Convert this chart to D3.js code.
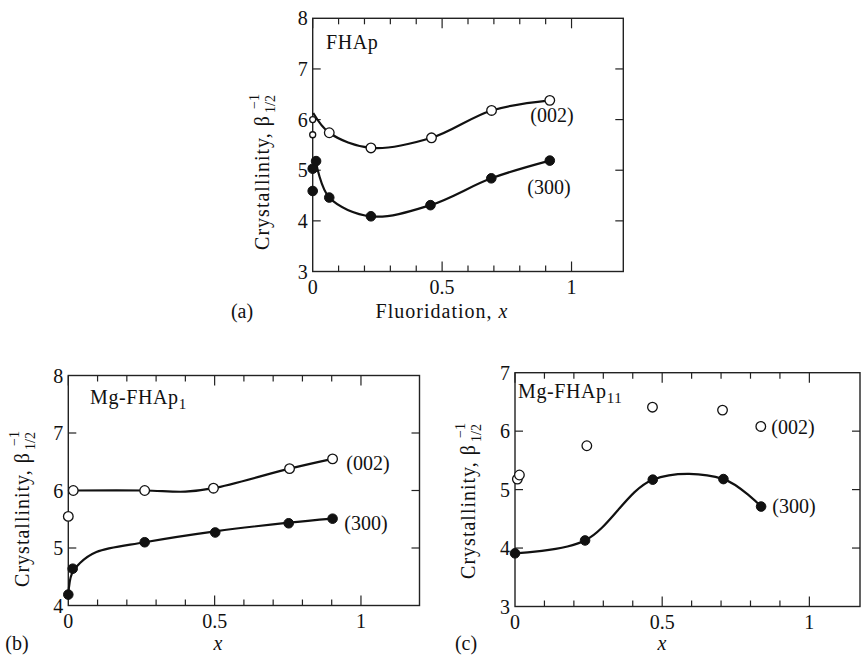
<!DOCTYPE html>
<html><head><meta charset="utf-8">
<script src="https://cdn.jsdelivr.net/npm/d3@7"></script>
<style>
body{margin:0;background:#fff}
svg{display:block}
text{font-family:"Liberation Serif","Times New Roman",serif;fill:#111}
</style>
</head><body>
<svg id="chart" width="861" height="655"></svg>
<script>
// ---------------- data ----------------
const xMajorTicks = [0, 0.5, 1];
const xMajorLabels = ["0", "0.5", "1"];
const xMinorTicks = [0.1, 0.2, 0.3, 0.4, 0.6, 0.7, 0.8, 0.9];
const yTicksA = [3, 4, 5, 6, 7, 8];
const yTicksB = [4, 5, 6, 7, 8];
const yTicksC = [3, 4, 5, 6, 7];

// (a) FHAp
const a002Small = [[0, 6.0], [0, 5.70]];
const a002Open = [[0.064, 5.74], [0.225, 5.44], [0.459, 5.64], [0.691, 6.18], [0.916, 6.38]];
const a002Fit = [[0.002, 6.13], [0.064, 5.74], [0.225, 5.44], [0.459, 5.64], [0.691, 6.18], [0.916, 6.38]];
const a300Filled = [[0, 5.03], [0.013, 5.18], [0, 4.59], [0.064, 4.46], [0.225, 4.09], [0.455, 4.31], [0.69, 4.84], [0.916, 5.19]];
const a300Fit = [[0.013, 5.15], [0.064, 4.46], [0.225, 4.09], [0.455, 4.31], [0.69, 4.84], [0.916, 5.19]];

// (b) Mg-FHAp1
const b002Open = [[0, 5.55], [0.017, 6.0], [0.261, 6.0], [0.496, 6.04], [0.756, 6.38], [0.903, 6.55]];
const b002Fit = [[0.017, 6.0], [0.261, 6.0], [0.40, 5.98], [0.496, 6.04], [0.756, 6.38], [0.903, 6.55]];
const b300Filled = [[0, 4.19], [0.015, 4.64], [0.261, 5.10], [0.502, 5.27], [0.753, 5.43], [0.903, 5.51]];
const b300Fit = [[0, 4.19], [0.012, 4.55], [0.04, 4.74], [0.096, 4.93], [0.261, 5.10], [0.502, 5.29], [0.753, 5.44], [0.903, 5.51]];

// (c) Mg-FHAp11
const c002Open = [[0.008, 5.18], [0.015, 5.25], [0.244, 5.75], [0.467, 6.41], [0.705, 6.36], [0.835, 6.08]];
const c300Filled = [[0, 3.91], [0.238, 4.13], [0.468, 5.17], [0.708, 5.18], [0.836, 4.71]];
const c300Fit = [[0, 3.91], [0.238, 4.13], [0.468, 5.17], [0.708, 5.18], [0.836, 4.71]];

// ---------------- drawing ----------------
const svg = d3.select("#chart");
const INK = "#111";

function panel(cfg) {
  const x = d3.scaleLinear().domain(cfg.xDomain).range([cfg.left, cfg.right]);
  const y = d3.scaleLinear().domain(cfg.yDomain).range([cfg.bottom, cfg.top]);
  const g = svg.append("g");

  // frame
  g.append("rect").attr("x", cfg.left).attr("y", cfg.top)
    .attr("width", cfg.right - cfg.left).attr("height", cfg.bottom - cfg.top)
    .attr("fill", "none").attr("stroke", "#222").attr("stroke-width", 1.4);

  // x ticks (bottom + top, inward)
  const xt = xMajorTicks.map(v => ({v, len: 10})).concat(xMinorTicks.map(v => ({v, len: 6})));
  xt.forEach(t => {
    const px = x(t.v);
    if (t.v > cfg.xDomain[0]) {
      g.append("line").attr("x1", px).attr("x2", px).attr("y1", cfg.bottom).attr("y2", cfg.bottom - t.len)
        .attr("stroke", "#222").attr("stroke-width", 1.2);
    }
    g.append("line").attr("x1", px).attr("x2", px).attr("y1", cfg.top).attr("y2", cfg.top + t.len)
      .attr("stroke", "#222").attr("stroke-width", 1.2);
  });
  // x tick labels
  xMajorTicks.forEach((v, i) => {
    g.append("text").attr("x", x(v)).attr("y", cfg.bottom + 22)
      .attr("text-anchor", "middle").attr("font-size", 20).text(xMajorLabels[i]);
  });

  // y ticks (left + right, inward)
  cfg.yTicks.forEach(v => {
    const py = y(v);
    if (v > cfg.yDomain[0] && v < cfg.yDomain[1]) {
      g.append("line").attr("x1", cfg.left).attr("x2", cfg.left + 8).attr("y1", py).attr("y2", py)
        .attr("stroke", "#222").attr("stroke-width", 1.2);
      g.append("line").attr("x1", cfg.right).attr("x2", cfg.right - 8).attr("y1", py).attr("y2", py)
        .attr("stroke", "#222").attr("stroke-width", 1.2);
    }
    g.append("text").attr("x", cfg.left - 5).attr("y", py).attr("dy", "0.35em")
      .attr("text-anchor", "end").attr("font-size", 20).text(d3.format("d")(v));
  });

  // y axis title, rotated, with stacked sup/sub after beta
  const yt = g.append("g").attr("transform", `translate(${cfg.yTitleX},${cfg.yTitleY}) rotate(-90)`);
  const main = yt.append("text").attr("font-size", 20).attr("letter-spacing", 1)
    .attr("y", 7).text("Crystallinity, β");
  const L = main.node().getComputedTextLength();
  const sup = yt.append("text").attr("font-size", 14).attr("y", -3).text("−1");
  const sub = yt.append("text").attr("font-size", 14).attr("y", 13).text("1/2");
  const sw = Math.max(sup.node().getComputedTextLength(), sub.node().getComputedTextLength());
  const total = L + 3 + sw;
  main.attr("x", -total / 2);
  sup.attr("x", -total / 2 + L + 6);
  sub.attr("x", -total / 2 + L + 2);

  // x axis title
  const xtt = g.append("text").attr("x", cfg.xTitleX).attr("y", cfg.xTitleY)
    .attr("text-anchor", "middle").attr("font-size", 20).attr("letter-spacing", cfg.xTitleText ? 1 : 0);
  if (cfg.xTitleText) xtt.append("tspan").text(cfg.xTitleText);
  xtt.append("tspan").attr("font-style", "italic").text("x");

  // panel letter
  g.append("text").attr("x", cfg.letterX).attr("y", cfg.xTitleY).attr("text-anchor", "middle")
    .attr("font-size", 20).text(cfg.letter);

  // name
  const nm = g.append("text").attr("x", cfg.nameX).attr("y", cfg.nameY).attr("font-size", 20).attr("letter-spacing", 0.6);
  nm.append("tspan").text(cfg.name);
  if (cfg.nameSub) nm.append("tspan").attr("font-size", 15).attr("dy", 5).text(cfg.nameSub);

  const line = d3.line().x(d => x(d[0])).y(d => y(d[1])).curve(d3.curveCatmullRom.alpha(0.5));
  (cfg.fits || []).forEach(f => {
    g.append("path").attr("d", line(f)).attr("fill", "none").attr("stroke", INK).attr("stroke-width", 2.2);
  });
  (cfg.filled || []).forEach(s => {
    g.selectAll(null).data(s.data).enter().append("circle")
      .attr("cx", d => x(d[0])).attr("cy", d => y(d[1])).attr("r", s.r)
      .attr("fill", INK).attr("stroke", INK).attr("stroke-width", 1);
  });
  (cfg.open || []).forEach(s => {
    g.selectAll(null).data(s.data).enter().append("circle")
      .attr("cx", d => x(d[0])).attr("cy", d => y(d[1])).attr("r", s.r)
      .attr("fill", "#fff").attr("stroke", INK).attr("stroke-width", 1.3);
  });
  (cfg.labels || []).forEach(l => {
    g.append("text").attr("x", l.x).attr("y", l.y).attr("dy", "0.35em").attr("text-anchor", "middle")
      .attr("font-size", 20).text(l.t);
  });
}

panel({
  left: 312.7, right: 623.3, top: 18.3, bottom: 271.5,
  xDomain: [0, 1.2], yDomain: [3, 8], yTicks: yTicksA,
  yTitleX: 262, yTitleY: 172,
  xTitleText: "Fluoridation, ", xTitleX: 442, xTitleY: 318,
  letter: "(a)", letterX: 242,
  name: "FHAp", nameX: 326, nameY: 49,
  fits: [a002Fit, a300Fit],
  filled: [{data: a300Filled, r: 4.8}],
  open: [{data: a002Small, r: 3}, {data: a002Open, r: 4.8}],
  labels: [{t: "(002)", x: 552, y: 115}, {t: "(300)", x: 549, y: 187}]
});

panel({
  left: 68.3, right: 419.5, top: 375.5, bottom: 605.5,
  xDomain: [0, 1.2], yDomain: [4, 8], yTicks: yTicksB,
  yTitleX: 22, yTitleY: 509,
  xTitleText: "", xTitleX: 218, xTitleY: 650,
  letter: "(b)", letterX: 17,
  name: "Mg-FHAp", nameSub: "1", nameX: 90, nameY: 404,
  fits: [b002Fit, b300Fit],
  filled: [{data: b300Filled, r: 4.8}],
  open: [{data: b002Open, r: 4.8}],
  labels: [{t: "(002)", x: 368, y: 463}, {t: "(300)", x: 366, y: 523}]
});

panel({
  left: 515, right: 860, top: 372.7, bottom: 606.5,
  xDomain: [0, 1.172], yDomain: [3, 7], yTicks: yTicksC,
  yTitleX: 468, yTitleY: 501,
  xTitleText: "", xTitleX: 662, xTitleY: 650,
  letter: "(c)", letterX: 466,
  name: "Mg-FHAp", nameSub: "11", nameX: 518, nameY: 398,
  fits: [c300Fit],
  filled: [{data: c300Filled, r: 4.8}],
  open: [{data: c002Open, r: 4.8}],
  labels: [{t: "(002)", x: 793, y: 427}, {t: "(300)", x: 794, y: 506}]
});
</script>
</body></html>
